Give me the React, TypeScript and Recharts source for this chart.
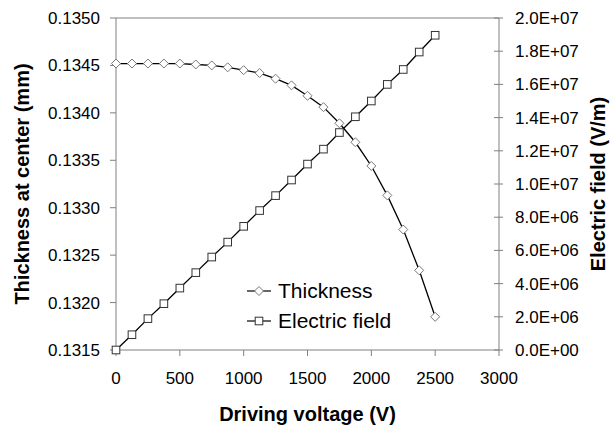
import { ComposedChart, Line, XAxis, YAxis, ReferenceLine } from 'recharts';

const voltage = [0, 125, 250, 375, 500, 625, 750, 875, 1000, 1125, 1250, 1375, 1500, 1625, 1750, 1875, 2000, 2125, 2250, 2375, 2500];
const thickness = [
  0.13452, 0.13452, 0.13452, 0.13452, 0.13452, 0.13451, 0.1345, 0.13448, 0.13445, 0.13442, 0.13436,
  0.13429, 0.13418, 0.13406, 0.13389, 0.13369, 0.13344, 0.13313, 0.13277, 0.13234, 0.13185,
];
const field = [
  0, 0.92e6, 1.89e6, 2.79e6, 3.73e6, 4.66e6, 5.6e6, 6.5e6, 7.45e6, 8.4e6, 9.3e6,
  10.24e6, 11.2e6, 12.1e6, 13.1e6, 14.05e6, 15.0e6, 16.0e6, 16.9e6, 17.95e6, 18.96e6,
];
const xTicks = [0, 500, 1000, 1500, 2000, 2500, 3000];
const leftTicks = [0.1315, 0.132, 0.1325, 0.133, 0.1335, 0.134, 0.1345, 0.135];
const rightTicks = [0, 2e6, 4e6, 6e6, 8e6, 1e7, 1.2e7, 1.4e7, 1.6e7, 1.8e7, 2e7];

const data = voltage.map((v, i) => ({ v, thickness: thickness[i], field: field[i] }));

const FONT = '"Liberation Sans", Arial, sans-serif';
const AXIS = '#808080';

// drop the default body margin so the chart sits at 0,0
if (typeof document !== 'undefined') document.body.style.margin = '0';

// 2.0E+07 style
function sci(v: number) {
  if (v === 0) return '0.0E+00';
  const e = Math.floor(Math.log10(v) + 1e-9);
  const m = v / Math.pow(10, e);
  return m.toFixed(1) + 'E+' + String(e).padStart(2, '0');
}

const Diamond = (props: any) => {
  const { cx, cy } = props;
  if (cx == null || cy == null) return null;
  const r = 4.5;
  return (
    <polygon
      points={`${cx},${cy - r} ${cx + r},${cy} ${cx},${cy + r} ${cx - r},${cy}`}
      fill="#fff"
      stroke="#777"
      strokeWidth={1}
    />
  );
};

const Square = (props: any) => {
  const { cx, cy } = props;
  if (cx == null || cy == null) return null;
  const r = 3.8;
  return <rect x={cx - r} y={cy - r} width={r * 2} height={r * 2} fill="#fff" stroke="#333" strokeWidth={1} />;
};

// right axis ticks cross the axis line
const RightTick = (props: any) => {
  const { x, y, payload } = props;
  const ax = x - 16;
  return (
    <g>
      <line x1={ax - 5} x2={ax + 4} y1={y} y2={y} stroke={AXIS} />
      <text x={x} y={y} dy="0.35em" textAnchor="start" fontSize={17} fontFamily={FONT} fill="#000">
        {sci(payload.value)}
      </text>
    </g>
  );
};

const titleStyle = { fontSize: 20, fontWeight: 'bold' as const, fontFamily: FONT, fill: '#000' };

const sideTitle = (text: string, side: 'left' | 'right') => (props: any) => {
  const vb = props.viewBox;
  const cx = side === 'left' ? vb.x + 22 : vb.x + vb.width - 16;
  const cy = vb.y + vb.height / 2;
  return (
    <text x={cx} y={cy} transform={`rotate(-90 ${cx} ${cy})`} textAnchor="middle" dominantBaseline="central" {...titleStyle}>
      {text}
    </text>
  );
};

const legendItems = [
  { name: 'Thickness', Mark: Diamond },
  { name: 'Electric field', Mark: Square },
];

export default function App() {
  return (
    <div style={{ width: 614, height: 428, position: 'relative', background: '#fff' }}>
      <ComposedChart width={614} height={428} data={data} margin={{ top: 18, right: 0, bottom: 0, left: 0 }}>
        <XAxis
          dataKey="v"
          type="number"
          domain={[0, 3000]}
          ticks={xTicks}
          height={78}
          stroke={AXIS}
          tickSize={6}
          tickMargin={16}
          tick={{ fontSize: 17, fontFamily: FONT, fill: '#000' }}
          label={{ value: 'Driving voltage (V)', position: 'insideBottom', offset: 7, style: titleStyle }}
        />
        <YAxis
          yAxisId="left"
          domain={[0.1315, 0.135]}
          ticks={leftTicks}
          width={116}
          stroke={AXIS}
          tickSize={6}
          tickMargin={10}
          tickFormatter={(v: number) => v.toFixed(4)}
          tick={{ fontSize: 17, fontFamily: FONT, fill: '#000' }}
          label={{ content: sideTitle('Thickness at center (mm)', 'left') }}
        />
        <YAxis
          yAxisId="right"
          orientation="right"
          domain={[0, 2e7]}
          ticks={rightTicks}
          width={115}
          stroke={AXIS}
          tickLine={false}
          tickSize={4}
          tickMargin={12}
          tick={<RightTick />}
          label={{ content: sideTitle('Electric field (V/m)', 'right') }}
        />
        <ReferenceLine yAxisId="left" y={0.135} stroke={AXIS} />
        <Line
          yAxisId="left"
          dataKey="thickness"
          name="Thickness"
          stroke="#000"
          strokeWidth={1.3}
          dot={<Diamond />}
          isAnimationActive={false}
        />
        <Line
          yAxisId="right"
          dataKey="field"
          name="Electric field"
          stroke="#000"
          strokeWidth={1.3}
          dot={<Square />}
          isAnimationActive={false}
        />
      </ComposedChart>
      <div style={{ position: 'absolute', left: 246, top: 276, fontFamily: FONT, fontSize: 21 }}>
        {legendItems.map(({ name, Mark }) => (
          <div key={name} style={{ display: 'flex', alignItems: 'center', height: 30 }}>
            <svg width={28} height={14} style={{ marginRight: 4 }}>
              <line x1={1} x2={25} y1={7} y2={7} stroke="#000" strokeWidth={1.2} />
              <Mark cx={13} cy={7} />
            </svg>
            <span>{name}</span>
          </div>
        ))}
      </div>
    </div>
  );
}
